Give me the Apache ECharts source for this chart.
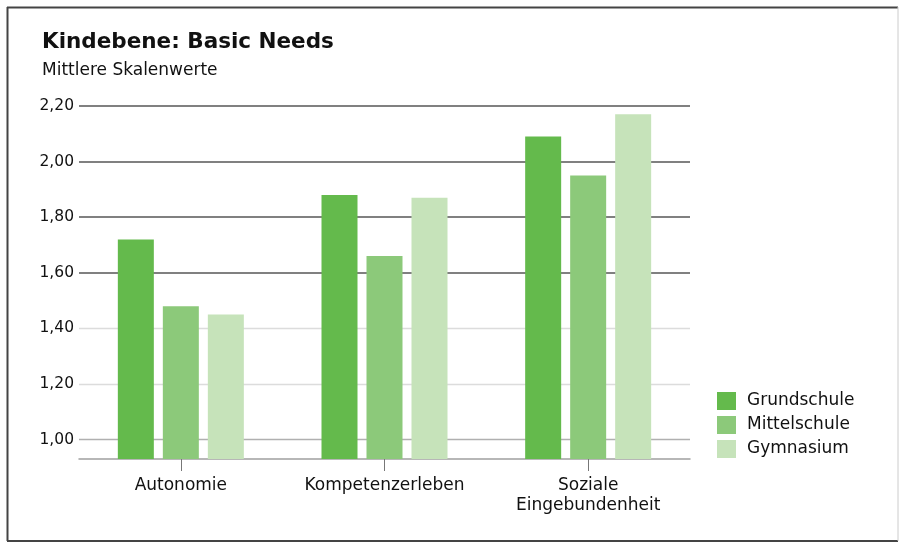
<!DOCTYPE html>
<html>
<head>
<meta charset="utf-8">
<script src="https://cdn.jsdelivr.net/npm/echarts@6/dist/echarts.min.js"></script>
<style>html,body{margin:0;padding:0;background:#fff;}#c{width:899px;height:545px;}</style>
</head>
<body>
<div id="c"></div>
<script>
const categories = ['Autonomie', 'Kompetenzerleben', 'Soziale\nEingebundenheit'];
const seriesNames = ['Grundschule', 'Mittelschule', 'Gymnasium'];
const grundschule = [1.72, 1.88, 2.09];
const mittelschule = [1.48, 1.66, 1.95];
const gymnasium = [1.45, 1.87, 2.17];
const tickValues = [1.00, 1.20, 1.40, 1.60, 1.80, 2.00, 2.20];
const tickLabels = ['1,00', '1,20', '1,40', '1,60', '1,80', '2,00', '2,20'];

const colors = ['#64ba4c', '#8cc97a', '#c6e3ba'];
const gridColors = ['#b0b0b0', '#dcdcdc', '#dcdcdc', '#808080', '#808080', '#808080', '#808080'];
const FONT = 'DejaVu Sans';

const chart = echarts.init(document.getElementById('c'), null, {renderer: 'canvas'});
const gridLines = tickValues.map((v, i) => ({
  yAxis: v,
  lineStyle: {color: gridColors[i], width: i >= 3 ? 1.8 : 1.3, type: 'solid'},
  label: {show: true, position: 'start', formatter: tickLabels[i], color: '#111', fontSize: 15.5, fontFamily: FONT, distance: 5}
}));
const data = [grundschule, mittelschule, gymnasium];
chart.setOption({
  animation: false,
  color: colors,
  title: {
    text: 'Kindebene: Basic Needs',
    subtext: 'Mittlere Skalenwerte',
    left: 37, top: 26,
    itemGap: 9,
    textStyle: {fontFamily: FONT, fontSize: 21.5, fontWeight: 'bold', color: '#111'},
    subtextStyle: {fontFamily: FONT, fontSize: 17, color: '#111'}
  },
  legend: {
    orient: 'vertical', left: 717, top: 392, padding: 0,
    icon: 'rect', itemWidth: 19, itemHeight: 18, itemGap: 6,
    textStyle: {fontFamily: FONT, fontSize: 17, color: '#111', padding: [0, 0, 0, 6]},
    data: seriesNames
  },
  grid: {left: 79, right: 209, top: 106, bottom: 86, containLabel: false},
  xAxis: {
    type: 'category', data: categories,
    axisLine: {lineStyle: {color: '#a0a0a0', width: 1.5}},
    axisTick: {show: true, alignWithLabel: true, interval: 0, length: 12, lineStyle: {color: '#777'}},
    axisLabel: {fontFamily: FONT, fontSize: 17, color: '#111', margin: 17, lineHeight: 20, interval: 0, hideOverlap: false}
  },
  yAxis: {
    type: 'value', min: 0.93, max: 2.2,
    axisLabel: {show: false}, splitLine: {show: false}, axisLine: {show: false}, axisTick: {show: false}
  },
  series: data.map((d, i) => ({
    name: seriesNames[i], type: 'bar', data: d,
    barWidth: 36, barGap: '25%', z: 3,
    markLine: i === 0 ? {silent: true, symbol: 'none', z: 1, data: gridLines} : undefined
  })),
  graphic: [
    {type: 'line', shape: {x1: 7, y1: 7.5, x2: 898, y2: 7.5}, style: {stroke: '#444', lineWidth: 2}},
    {type: 'line', shape: {x1: 7.5, y1: 7, x2: 7.5, y2: 541}, style: {stroke: '#444', lineWidth: 2}},
    {type: 'line', shape: {x1: 7, y1: 541, x2: 898, y2: 541}, style: {stroke: '#444', lineWidth: 2}},
    {type: 'line', shape: {x1: 898, y1: 7, x2: 898, y2: 541}, style: {stroke: '#ccc', lineWidth: 1}}
  ]
});
</script>
</body>
</html>
